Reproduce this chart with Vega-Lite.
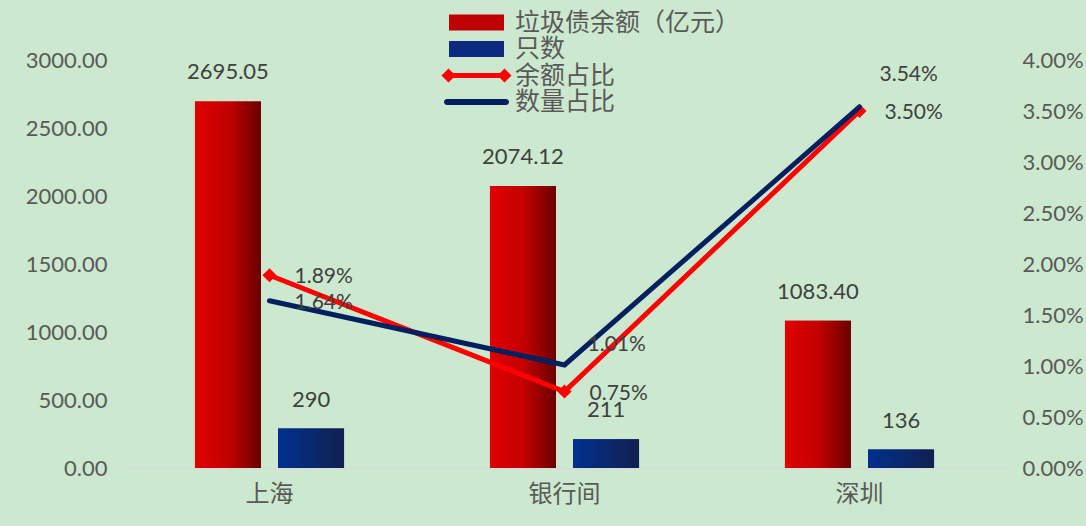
{
  "$schema": "https://vega.github.io/schema/vega-lite/v6.json",
  "width": 885,
  "height": 408,
  "autosize": {"type": "none"},
  "padding": {"left": 122, "top": 60, "right": 79, "bottom": 58},
  "background": "#cce8cf",
  "config": {
    "view": {"stroke": null},
    "font": "Lato",
    "legend": {"labelFont": "Noto Sans CJK SC"}
  },
  "datasets": {
    "bars": [
      {"city": "上海", "series": "垃圾债余额（亿元）", "value": 2695.05},
      {"city": "上海", "series": "只数", "value": 290},
      {"city": "银行间", "series": "垃圾债余额（亿元）", "value": 2074.12},
      {"city": "银行间", "series": "只数", "value": 211},
      {"city": "深圳", "series": "垃圾债余额（亿元）", "value": 1083.40},
      {"city": "深圳", "series": "只数", "value": 136}
    ],
    "shares": [
      {"city": "上海", "series": "余额占比", "value": 0.0189},
      {"city": "银行间", "series": "余额占比", "value": 0.0075},
      {"city": "深圳", "series": "余额占比", "value": 0.0350},
      {"city": "上海", "series": "数量占比", "value": 0.0164},
      {"city": "银行间", "series": "数量占比", "value": 0.0101},
      {"city": "深圳", "series": "数量占比", "value": 0.0354}
    ]
  },
  "encoding": {
    "x": {
      "field": "city",
      "type": "nominal",
      "sort": ["上海", "银行间", "深圳"],
      "scale": {"paddingInner": 0.44, "paddingOuter": 0.22},
      "axis": {
        "title": null,
        "labelAngle": 0,
        "labelFont": "Noto Sans CJK SC",
        "labelFontSize": 24,
        "labelColor": "#595959",
        "labelPadding": 14,
        "ticks": false,
        "domainColor": "#d9d9d9",
        "domainWidth": 1.5
      }
    }
  },
  "layer": [
    {
      "data": {"name": "bars"},
      "encoding": {
        "xOffset": {
          "field": "series",
          "type": "nominal",
          "sort": ["垃圾债余额（亿元）", "只数"],
          "scale": {"paddingInner": 0.205, "paddingOuter": 0.097}
        },
        "y": {
          "field": "value",
          "type": "quantitative",
          "scale": {"domain": [0, 3000]},
          "axis": {
            "title": null,
            "orient": "left",
            "values": [0, 500, 1000, 1500, 2000, 2500, 3000],
            "format": ".2f",
            "grid": false,
            "domain": false,
            "ticks": false,
            "labelFontSize": 22,
            "labelColor": "#595959",
            "labelPadding": 15
          }
        }
      },
      "layer": [
        {
          "mark": {"type": "bar"},
          "encoding": {
            "color": {
              "field": "series",
              "type": "nominal",
              "scale": {
                "domain": ["垃圾债余额（亿元）", "只数", "余额占比", "数量占比"],
                "range": ["#c00000", "#0b2a80", "#ff0000", "#002060"]
              },
              "legend": {
                "title": null,
                "orient": "none",
                "legendX": 342,
                "legendY": -50,
                "padding": 0,
                "direction": "vertical",
                "labelFontSize": 25,
                "labelColor": "#595959",
                "labelOffset": 26,
                "rowPadding": 0.5,
                "symbolSize": 625,
                "symbolStrokeWidth": 0,
                "labelLimit": 400,
                "encode": {
                  "symbols": {
                    "update": {
                      "shape": [
                        {"test": "datum.value === '余额占比'", "value": "M-2.8,0L-2.24,-0.56L-1.68,0L-2.24,0.56Z M-2.24,-0.2H2.24V0.2H-2.24Z M1.68,0L2.24,-0.56L2.8,0L2.24,0.56Z"},
                        {"test": "datum.value === '数量占比'", "value": "M-2.36,-0.24H2.36A0.24,0.24 0 0 1 2.36,0.24H-2.36A0.24,0.24 0 0 1 -2.36,-0.24Z"},
                        {"value": "M-2.2,-0.64H2.2V0.64H-2.2Z"}
                      ],
                      "fill": [
                        {"test": "datum.value === '余额占比'", "value": "#ff0000"},
                        {"test": "datum.value === '数量占比'", "value": "#002060"},
                        {"test": "datum.value === '只数'", "value": {"gradient": "linear", "x1": 0, "x2": 1, "y1": 0, "y2": 0, "stops": [{"offset": 0, "color": "#00308f"}, {"offset": 1, "color": "#11204f"}]}},
                        {"value": {"gradient": "linear", "x1": 0, "x2": 1, "y1": 0, "y2": 0, "stops": [{"offset": 0, "color": "#e00000"}, {"offset": 0.5, "color": "#c40000"}, {"offset": 1, "color": "#6a0000"}]}}
                      ],
                      "strokeWidth": {"value": 0},
                      "opacity": {"value": 1},
                      "fillOpacity": {"value": 1}
                    }
                  }
                }
              }
            }
          }
        },
        {
          "mark": {"type": "bar"},
          "encoding": {
            "color": {
              "condition": {
                "test": "datum.series === '只数'",
                "value": {"gradient": "linear", "x1": 0, "x2": 1, "y1": 0, "y2": 0, "stops": [{"offset": 0, "color": "#00308f"}, {"offset": 1, "color": "#11204f"}]}
              },
              "value": {"gradient": "linear", "x1": 0, "x2": 1, "y1": 0, "y2": 0, "stops": [{"offset": 0, "color": "#e00000"}, {"offset": 0.5, "color": "#c40000"}, {"offset": 1, "color": "#6a0000"}]}
            }
          }
        },
        {
          "mark": {"type": "text", "baseline": "bottom", "dy": -17, "fontSize": 22, "color": "#404040"},
          "encoding": {
            "text": {
              "condition": {"test": "datum.series === '只数'", "field": "value", "format": "d"},
              "field": "value",
              "format": ".2f"
            }
          }
        }
      ]
    },
    {
      "data": {"name": "shares"},
      "encoding": {
        "y": {
          "field": "value",
          "type": "quantitative",
          "scale": {"domain": [0, 0.04]},
          "axis": {
            "title": null,
            "orient": "right",
            "values": [0, 0.005, 0.01, 0.015, 0.02, 0.025, 0.03, 0.035, 0.04],
            "format": ".2%",
            "grid": false,
            "domain": false,
            "ticks": false,
            "labelFontSize": 22,
            "labelColor": "#595959",
            "labelPadding": 15
          }
        }
      },
      "layer": [
        {
          "transform": [{"filter": "datum.series === '余额占比'"}],
          "mark": {"type": "line", "strokeWidth": 5},
          "encoding": {"color": {"field": "series", "type": "nominal"}}
        },
        {
          "transform": [{"filter": "datum.series === '余额占比'"}],
          "mark": {"type": "point", "shape": "diamond", "filled": true, "size": 200, "opacity": 1, "color": "#ff0000"}
        },
        {
          "transform": [{"filter": "datum.series === '数量占比'"}],
          "mark": {"type": "line", "strokeWidth": 5, "strokeCap": "round"},
          "encoding": {"color": {"field": "series", "type": "nominal"}}
        },
        {
          "transform": [{"filter": "datum.series === '余额占比' || datum.city === '上海'"}],
          "mark": {"type": "text", "align": "left", "baseline": "middle", "dx": 25, "dy": 2, "fontSize": 21, "color": "#404040"},
          "encoding": {"text": {"field": "value", "format": ".2%"}}
        },
        {
          "transform": [{"filter": "datum.series === '数量占比' && datum.city === '银行间'"}],
          "mark": {"type": "text", "align": "left", "baseline": "middle", "dx": 23, "dy": -20, "fontSize": 21, "color": "#404040"},
          "encoding": {"text": {"field": "value", "format": ".2%"}}
        },
        {
          "transform": [{"filter": "datum.series === '数量占比' && datum.city === '深圳'"}],
          "mark": {"type": "text", "align": "left", "baseline": "middle", "dx": 20, "dy": -32, "fontSize": 21, "color": "#404040"},
          "encoding": {"text": {"field": "value", "format": ".2%"}}
        }
      ]
    }
  ],
  "resolve": {"scale": {"y": "independent"}}
}
